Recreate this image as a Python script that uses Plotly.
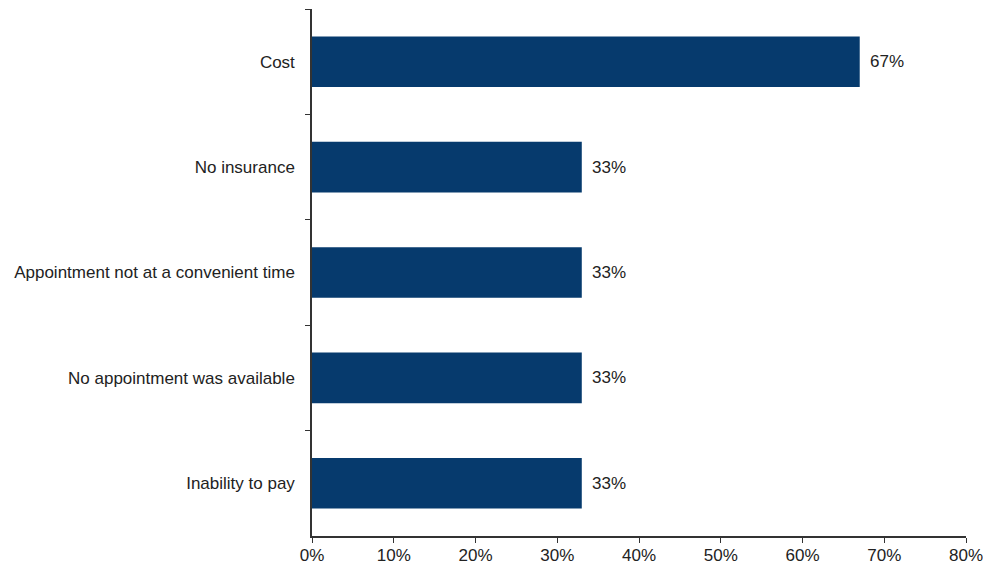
import plotly.graph_objects as go

categories = ["Cost", "No insurance", "Appointment not at a convenient time",
              "No appointment was available", "Inability to pay"]
values = [0.67, 0.33, 0.33, 0.33, 0.33]
labels = ["67%", "33%", "33%", "33%", "33%"]
x_ticks = [0, 0.1, 0.2, 0.3, 0.4, 0.5, 0.6, 0.7, 0.8]

FONT = "Liberation Sans, Arial, sans-serif"
FS = 17

fig = go.Figure(go.Bar(
    x=values, y=categories, orientation="h",
    marker=dict(color="#063a6d", line=dict(width=0)),
    width=0.48, hoverinfo="x+y",
))

for v, c, t in zip(values, categories, labels):
    fig.add_annotation(x=v, y=c, text=t, showarrow=False, xanchor="left",
                       yanchor="middle", xshift=8,
                       font=dict(family=FONT, size=FS, color="#222222"))

# page body has an 8px margin, so the figure is 8px smaller than the window
fig.update_layout(
    width=983, height=561,
    margin=dict(l=304, r=25, t=1, b=33),
    paper_bgcolor="white", plot_bgcolor="white",
    font=dict(family=FONT, size=FS, color="#222222"),
    showlegend=False,
    xaxis=dict(range=[0, 0.8], tickvals=x_ticks, tickformat=".0%", automargin=False,
               showgrid=False, zeroline=False, showline=True, linecolor="#333333",
               linewidth=1.5, ticks="outside", ticklen=5, tickcolor="#333333",
               ticklabelstandoff=-2, tickfont=dict(size=FS)),
    yaxis=dict(autorange="reversed", type="category", tickson="boundaries", automargin=False,
               showgrid=False, showline=True, linecolor="#333333", linewidth=1.5,
               ticks="outside", ticklen=5, tickcolor="#333333",
               ticklabelstandoff=12, tickfont=dict(size=FS)),
)

fig.write_html("out.html")
